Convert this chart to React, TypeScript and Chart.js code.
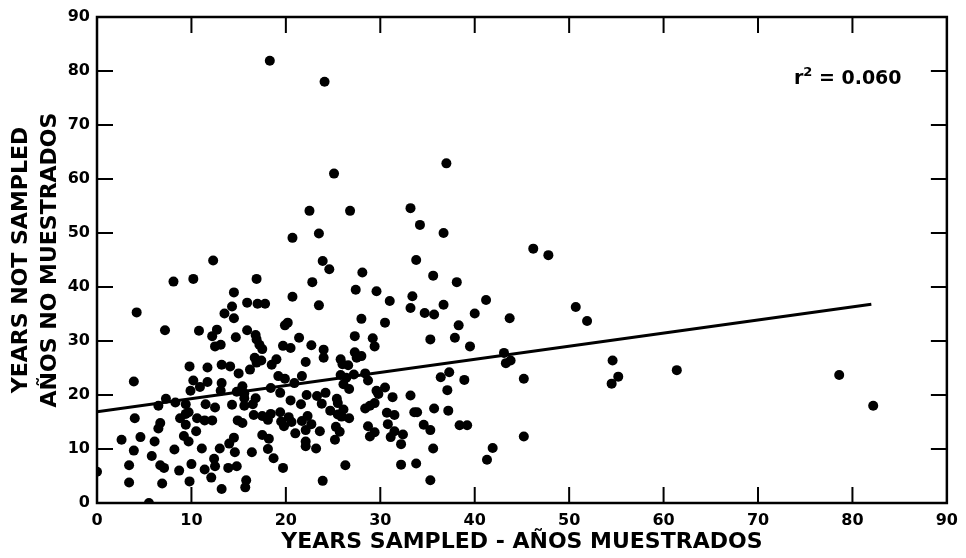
import React, { useEffect, useRef } from "react";
import { Chart, registerables } from "chart.js";

Chart.register(...registerables);

// Years sampled (x) and years not sampled (y) for each station
const yearsSampled = [
  12.3, 8.1, 10.2, 16.9, 14.5, 15.9, 17.0, 17.8, 14.3, 20.7,
  4.2, 13.5, 14.5, 20.2, 19.9, 7.2, 10.8, 12.7, 12.2, 15.9,
  16.8, 21.4, 14.7, 16.9, 13.1, 12.5, 19.7, 20.5, 17.2, 17.5,
  16.7, 17.4, 16.9, 19.0, 18.5, 22.1, 9.8, 11.7, 13.2, 14.1,
  16.2, 15.0, 19.2, 19.9, 21.7, 3.9, 10.2, 11.7, 13.2, 20.9,
  10.9, 15.4, 18.4, 9.9, 13.1, 14.8, 19.4, 15.6, 22.2, 7.3,
  15.6, 16.8, 20.5, 8.3, 9.4, 11.5, 6.5, 14.3, 15.6, 16.5,
  21.6, 12.5, 9.7, 9.4, 16.6, 17.5, 18.4, 19.4, 20.3, 22.3,
  4.0, 8.8, 10.6, 11.4, 12.2, 14.9, 15.4, 18.1, 19.5, 20.6,
  21.7, 6.7, 9.4, 19.8, 6.5, 22.1, 4.6, 9.2, 10.5, 14.5,
  17.5, 18.2, 21.0, 2.6, 6.1, 9.7, 14.0, 22.1, 3.9, 8.2,
  11.1, 13.0, 14.6, 16.4, 18.1, 22.1, 5.8, 18.7, 12.4, 3.4,
  6.7, 7.1, 10.0, 12.5, 13.9, 14.8, 19.7, 8.7, 11.4, 0,
  12.1, 3.4, 6.9, 9.8, 15.8, 15.7, 13.2, 5.5,
  23.9, 24.6, 33.8, 28.1, 22.8, 35.6, 38.1, 27.4, 29.6, 23.5,
  31.0, 33.4, 33.2, 34.7, 35.7, 36.7, 40.0, 28.0, 30.5, 38.3,
  27.3, 29.2, 29.4, 35.3, 37.9, 39.5, 22.7, 24.0, 24.0, 27.3,
  27.5, 28.0, 25.8, 26.0, 26.6, 25.8, 26.4, 27.2, 28.4, 28.7,
  26.1, 26.7, 36.4, 37.3, 38.9, 37.1, 23.3, 24.2, 23.8, 25.4,
  25.5, 24.7, 25.5, 26.1, 25.9, 26.7, 29.6, 30.5, 31.3, 29.8,
  29.4, 28.9, 28.4, 33.2, 30.7, 31.5, 33.6, 33.9, 35.7, 37.2,
  22.7, 23.6, 25.3, 25.7, 25.2, 23.2, 28.7, 29.4, 28.9, 30.8,
  31.5, 31.1, 32.4, 32.2, 34.6, 35.3, 38.4, 39.2, 35.6, 26.3,
  32.2, 33.8, 23.9, 35.3,
  18.3, 24.1, 25.1, 37.0, 22.5, 26.8, 33.2, 34.2, 36.7, 20.7, 23.5,
  46.2, 47.8, 41.2, 43.7, 50.7, 51.9, 43.1, 43.3, 43.8, 45.2,
  54.6, 55.2, 54.5, 61.4, 78.6, 82.2, 41.9, 41.3, 45.2,
];

const yearsNotSampled = [
  44.9, 41.0, 41.5, 41.5, 39.0, 37.1, 36.9, 36.9, 36.4, 38.2,
  35.3, 35.1, 34.2, 33.4, 32.9, 32.0, 31.9, 32.1, 30.9, 32.0,
  31.1, 30.6, 30.7, 30.3, 29.3, 29.0, 29.1, 28.7, 29.3, 28.5,
  26.9, 26.4, 26.0, 26.6, 25.6, 26.1, 25.3, 25.1, 25.6, 25.3,
  24.7, 24.0, 23.5, 23.0, 23.5, 22.5, 22.7, 22.4, 22.2, 22.2,
  21.5, 21.6, 21.3, 20.8, 20.8, 20.6, 20.4, 20.3, 20.0, 19.3,
  19.4, 19.4, 19.0, 18.6, 18.3, 18.3, 18.0, 18.2, 18.0, 18.3,
  18.3, 17.7, 16.8, 16.5, 16.3, 16.1, 16.5, 16.8, 15.9, 16.1,
  15.7, 15.7, 15.7, 15.3, 15.3, 15.3, 14.8, 15.4, 15.1, 15.0,
  15.2, 14.8, 14.5, 14.2, 13.8, 13.5, 12.2, 12.4, 13.3, 12.1,
  12.6, 11.9, 12.9, 11.7, 11.4, 11.4, 11.0, 11.4, 9.7, 9.9,
  10.1, 10.1, 9.4, 9.4, 10.0, 10.5, 8.7, 8.3, 8.2, 7.0,
  7.0, 6.5, 7.2, 6.8, 6.5, 6.8, 6.5, 6.0, 6.2, 5.8,
  4.7, 3.8, 3.6, 4.0, 4.2, 2.9, 2.6, 0,
  44.8, 43.3, 45.0, 42.7, 40.9, 42.1, 40.9, 39.5, 39.2, 36.6,
  37.4, 38.3, 36.1, 35.2, 34.9, 36.7, 35.1, 34.1, 33.4, 32.9,
  30.9, 30.5, 29.0, 30.3, 30.6, 29.0, 29.2, 28.4, 26.9, 27.9,
  26.9, 27.2, 26.6, 25.7, 25.5, 23.7, 23.2, 23.8, 24.0, 22.7,
  22.0, 21.1, 23.3, 24.2, 22.8, 20.9, 19.8, 20.4, 18.4, 19.3,
  18.5, 17.1, 16.4, 17.3, 16.0, 15.7, 20.8, 21.4, 19.6, 20.2,
  18.5, 18.0, 17.5, 19.9, 16.7, 16.3, 16.8, 16.8, 17.5, 17.1,
  14.6, 13.3, 14.1, 13.2, 11.7, 10.1, 14.2, 13.1, 12.3, 14.6,
  13.3, 12.2, 12.7, 10.9, 14.5, 13.5, 14.4, 14.4, 10.1, 7.0,
  7.1, 7.3, 4.1, 4.2,
  81.9, 78.0, 61.0, 62.9, 54.1, 54.1, 54.6, 51.5, 50.0, 49.1, 49.9,
  47.1, 45.9, 37.6, 34.2, 36.3, 33.7, 27.8, 25.9, 26.4, 23.0,
  26.4, 23.4, 22.1, 24.6, 23.7, 18.0, 10.2, 8.0, 12.3,
];

// Regression line end points
const regressionX = [0, 82];
const regressionY = [16.9, 36.8];

// Axis ticks
const axisTicks = [0, 10, 20, 30, 40, 50, 60, 70, 80, 90];

const rSquaredText = "0.060";
const rSquaredAnchor = [73.8, 77.6];

const FONT = "'DejaVu Sans', 'Liberation Sans', Arial, sans-serif";

const framePlugin = {
  id: "frameTicks",
  beforeDatasetsDraw(chart: any) {
    const { ctx, chartArea, scales } = chart;
    const { left, right, top, bottom } = chartArea;
    const x = scales.x;
    const y = scales.y;
    ctx.save();
    ctx.strokeStyle = "#000";
    ctx.lineWidth = 2;
    ctx.beginPath();
    const inner = axisTicks.slice(1, -1);
    for (const v of inner) {
      const px = x.getPixelForValue(v);
      ctx.moveTo(px, bottom);
      ctx.lineTo(px, bottom - 16);
      ctx.moveTo(px, top);
      ctx.lineTo(px, top + 16);
      const py = y.getPixelForValue(v);
      ctx.moveTo(left, py);
      ctx.lineTo(left + 16, py);
      ctx.moveTo(right, py);
      ctx.lineTo(right - 16, py);
    }
    ctx.stroke();
    ctx.lineWidth = 2.5;
    ctx.strokeRect(left, top, right - left, bottom - top);
    ctx.restore();
  },
  afterDatasetsDraw(chart: any) {
    const { ctx, scales } = chart;
    const px = scales.x.getPixelForValue(rSquaredAnchor[0]);
    const py = scales.y.getPixelForValue(rSquaredAnchor[1]);
    ctx.save();
    ctx.fillStyle = "#000";
    ctx.textBaseline = "alphabetic";
    ctx.textAlign = "left";
    ctx.font = `bold 19px ${FONT}`;
    ctx.fillText("r", px, py);
    let cx = px + ctx.measureText("r").width;
    ctx.font = `bold 13px ${FONT}`;
    ctx.fillText("2", cx, py - 8);
    cx += ctx.measureText("2").width;
    ctx.font = `bold 19px ${FONT}`;
    ctx.fillText(" = " + rSquaredText, cx, py);
    ctx.restore();
  },
};

export default function App() {
  const canvasRef = useRef<HTMLCanvasElement | null>(null);

  useEffect(() => {
    if (!canvasRef.current) return;
    const points = yearsSampled.map((v, i) => ({ x: v, y: yearsNotSampled[i] }));
    const line = regressionX.map((v, i) => ({ x: v, y: regressionY[i] }));
    const chart = new Chart(canvasRef.current, {
      type: "scatter",
      data: {
        datasets: [
          {
            data: line,
            showLine: true,
            borderColor: "#000",
            borderWidth: 3,
            pointRadius: 0,
            backgroundColor: "#000",
          } as any,
          {
            data: points,
            backgroundColor: "#000",
            borderColor: "#000",
            borderWidth: 0,
            pointRadius: 5,
          } as any,
        ],
      },
      options: {
        responsive: false,
        animation: false,
        devicePixelRatio: 1,
        layout: { padding: { left: 0, right: 17, top: 17, bottom: 0 } },
        plugins: {
          legend: { display: false },
          tooltip: { enabled: false },
        },
        scales: {
          x: {
            type: "linear",
            min: 0,
            max: 90,
            afterBuildTicks: (s: any) => {
              s.ticks = axisTicks.map((v) => ({ value: v }));
            },
            afterFit: (s: any) => {
              s.height = 55;
            },
            ticks: {
              color: "#000",
              padding: 8,
              font: { family: FONT, size: 16, weight: "bold" },
            },
            grid: { display: false, drawTicks: false },
            border: { display: false },
            title: {
              display: true,
              text: "YEARS SAMPLED - AÑOS MUESTRADOS",
              color: "#000",
              font: { family: FONT, size: 22, weight: "bold", lineHeight: 1.2 },
              padding: { top: 0, bottom: 3 },
            },
          },
          y: {
            type: "linear",
            min: 0,
            max: 90,
            afterBuildTicks: (s: any) => {
              s.ticks = axisTicks.map((v) => ({ value: v }));
            },
            afterFit: (s: any) => {
              s.width = 97;
            },
            ticks: {
              color: "#000",
              padding: 7,
              font: { family: FONT, size: 16, weight: "bold" },
            },
            grid: { display: false, drawTicks: false },
            border: { display: false },
            title: {
              display: true,
              text: ["YEARS NOT SAMPLED", "AÑOS NO MUESTRADOS"],
              color: "#000",
              font: { family: FONT, size: 22, weight: "bold", lineHeight: 1.32 },
              padding: { top: 7, bottom: 0 },
            },
          },
        },
      } as any,
      plugins: [framePlugin],
    });
    return () => chart.destroy();
  }, []);

  return (
    <div style={{ position: "fixed", left: 0, top: 0, width: 966, height: 558, background: "#fff" }}>
      <canvas ref={canvasRef} width={966} height={558} />
    </div>
  );
}
